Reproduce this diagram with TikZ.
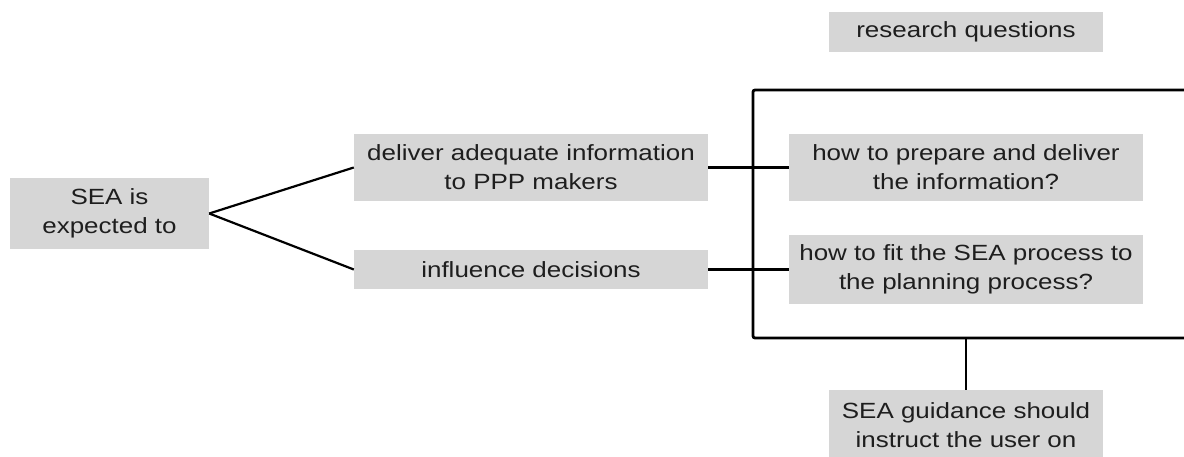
\documentclass[tikz,border=0pt]{standalone}
\usepackage{fontspec}
\setmainfont[FakeStretch=1.18]{Liberation Sans}
\definecolor{boxgray}{RGB}{214,214,214}
\definecolor{txtgray}{RGB}{30,30,30}
\begin{document}
\begin{tikzpicture}[x=1pt,y=-1pt,
  box/.style={fill=boxgray, text=txtgray, draw=none, inner sep=0pt, align=center,
    font=\fontsize{22pt}{29pt}\selectfont, anchor=center},
  conn/.style={draw=black, line width=2.2pt},
  brk/.style={draw=black, line width=2.8pt, rounded corners=2pt}]
\useasboundingbox (0,0) rectangle (1184,457);
\clip (0,0) rectangle (1184,457);
\node[box, minimum width=199pt, minimum height=71pt] (sea) at (109.5,213.5) {SEA is\\expected to};
\node[box, minimum width=354pt, minimum height=67pt] (deliver) at (531,167.5) {deliver adequate information\\to PPP makers};
\node[box, minimum width=354pt, minimum height=39pt] (influence) at (531,269.5) {influence decisions};
\node[box, minimum width=354pt, minimum height=67pt] (prep) at (966,167.5) {how to prepare and deliver\\the information?};
\node[box, minimum width=354pt, minimum height=68pt] (fit) at (966,269.5) {how to fit the SEA process to\\the planning process?};
\node[box, minimum width=274pt, minimum height=40pt] (rq) at (966,32) {research questions};
\node[box, minimum width=274pt, minimum height=70pt, text depth=0pt] (guide) at (966,425) {SEA guidance should\\instruct the user on};
\coordinate (tr) at (1190,90);
\coordinate (tl) at (753,90);
\coordinate (bl) at (753,338);
\coordinate (br) at (1190,338);
\coordinate (bm) at (966,338);
\draw[brk] (tr) -- (tl) -- (bl) -- (br);
\draw[conn] (sea.east) -- (deliver.west);
\draw[conn] (sea.east) -- (influence.west);
\draw[conn] (deliver.east) -- (prep.west);
\draw[conn] (influence.east) -- (fit.west);
\draw[conn] (bm) -- (guide.north);
\end{tikzpicture}
\end{document}
